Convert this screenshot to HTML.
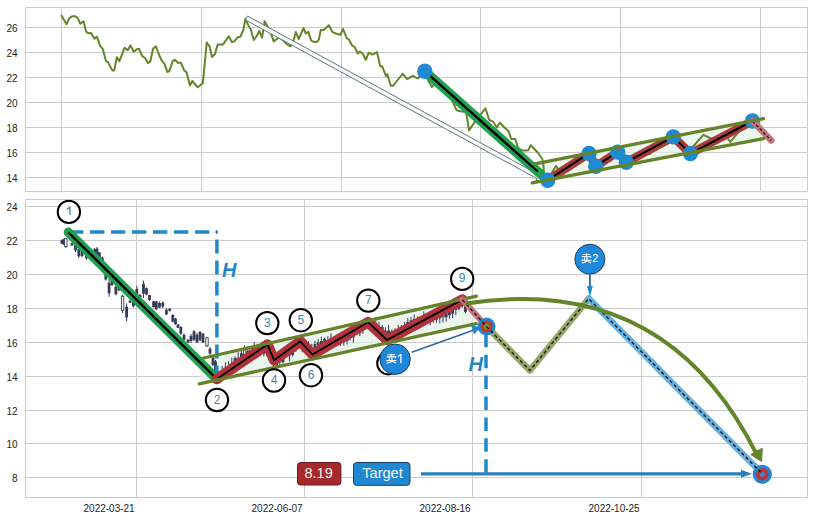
<!DOCTYPE html><html><head><meta charset="utf-8"><style>*{margin:0;padding:0}html,body{width:813px;height:520px;overflow:hidden;background:#fff}
svg text{font-family:"Liberation Sans",sans-serif}
.tk{font-size:10px;fill:#222222}
.nm{font-size:12px;fill:#3f84b8}
.sl{font-size:11px;fill:#ffffff}
.hh{font-size:20px;font-weight:bold;font-style:italic;fill:#1f88c8}
.bx{font-size:14.6px;fill:#f4f4f4}
</style></head><body><svg width="813" height="520" viewBox="0 0 813 520" style="position:absolute;left:0;top:0"><defs><clipPath id="ct"><rect x="25.5" y="7.5" width="782" height="184"/></clipPath><clipPath id="cb"><rect x="25.5" y="199.5" width="782" height="298"/></clipPath></defs><rect width="813" height="520" fill="#ffffff"/><line x1="25.5" x2="807.5" y1="27.5" y2="27.5" stroke="#cccccc" stroke-width="1"/><text x="17.5" y="31.6" text-anchor="end" class="tk">26</text><line x1="25.5" x2="807.5" y1="52.5" y2="52.5" stroke="#cccccc" stroke-width="1"/><text x="17.5" y="56.6" text-anchor="end" class="tk">24</text><line x1="25.5" x2="807.5" y1="77.5" y2="77.5" stroke="#cccccc" stroke-width="1"/><text x="17.5" y="81.6" text-anchor="end" class="tk">22</text><line x1="25.5" x2="807.5" y1="102.5" y2="102.5" stroke="#cccccc" stroke-width="1"/><text x="17.5" y="106.6" text-anchor="end" class="tk">20</text><line x1="25.5" x2="807.5" y1="127.5" y2="127.5" stroke="#cccccc" stroke-width="1"/><text x="17.5" y="131.6" text-anchor="end" class="tk">18</text><line x1="25.5" x2="807.5" y1="152.5" y2="152.5" stroke="#cccccc" stroke-width="1"/><text x="17.5" y="156.6" text-anchor="end" class="tk">16</text><line x1="25.5" x2="807.5" y1="177.5" y2="177.5" stroke="#cccccc" stroke-width="1"/><text x="17.5" y="181.6" text-anchor="end" class="tk">14</text><line x1="61.5" x2="61.5" y1="7.5" y2="191.5" stroke="#cccccc" stroke-width="1"/><line x1="201.5" x2="201.5" y1="7.5" y2="191.5" stroke="#cccccc" stroke-width="1"/><line x1="341.5" x2="341.5" y1="7.5" y2="191.5" stroke="#cccccc" stroke-width="1"/><line x1="480.5" x2="480.5" y1="7.5" y2="191.5" stroke="#cccccc" stroke-width="1"/><line x1="620.5" x2="620.5" y1="7.5" y2="191.5" stroke="#cccccc" stroke-width="1"/><line x1="760.5" x2="760.5" y1="7.5" y2="191.5" stroke="#cccccc" stroke-width="1"/><rect x="25.5" y="7.5" width="782" height="184" fill="none" stroke="#cccccc" stroke-width="1"/><line x1="25.5" x2="807.5" y1="206.5" y2="206.5" stroke="#cccccc" stroke-width="1"/><text x="17.5" y="210.6" text-anchor="end" class="tk">24</text><line x1="25.5" x2="807.5" y1="240.5" y2="240.5" stroke="#cccccc" stroke-width="1"/><text x="17.5" y="244.6" text-anchor="end" class="tk">22</text><line x1="25.5" x2="807.5" y1="274.5" y2="274.5" stroke="#cccccc" stroke-width="1"/><text x="17.5" y="278.6" text-anchor="end" class="tk">20</text><line x1="25.5" x2="807.5" y1="308.5" y2="308.5" stroke="#cccccc" stroke-width="1"/><text x="17.5" y="312.6" text-anchor="end" class="tk">18</text><line x1="25.5" x2="807.5" y1="342.5" y2="342.5" stroke="#cccccc" stroke-width="1"/><text x="17.5" y="346.6" text-anchor="end" class="tk">16</text><line x1="25.5" x2="807.5" y1="376.5" y2="376.5" stroke="#cccccc" stroke-width="1"/><text x="17.5" y="380.6" text-anchor="end" class="tk">14</text><line x1="25.5" x2="807.5" y1="410.5" y2="410.5" stroke="#cccccc" stroke-width="1"/><text x="17.5" y="414.6" text-anchor="end" class="tk">12</text><line x1="25.5" x2="807.5" y1="443.5" y2="443.5" stroke="#cccccc" stroke-width="1"/><text x="17.5" y="447.6" text-anchor="end" class="tk">10</text><line x1="25.5" x2="807.5" y1="477.5" y2="477.5" stroke="#cccccc" stroke-width="1"/><text x="17.5" y="481.6" text-anchor="end" class="tk">8</text><line x1="136.5" x2="136.5" y1="199.5" y2="497.5" stroke="#cccccc" stroke-width="1"/><text x="134.7" y="511.5" text-anchor="end" class="tk">2022-03-21</text><line x1="304.5" x2="304.5" y1="199.5" y2="497.5" stroke="#cccccc" stroke-width="1"/><text x="302.7" y="511.5" text-anchor="end" class="tk">2022-06-07</text><line x1="472.5" x2="472.5" y1="199.5" y2="497.5" stroke="#cccccc" stroke-width="1"/><text x="470.7" y="511.5" text-anchor="end" class="tk">2022-08-16</text><line x1="641.5" x2="641.5" y1="199.5" y2="497.5" stroke="#cccccc" stroke-width="1"/><text x="639.7" y="511.5" text-anchor="end" class="tk">2022-10-25</text><rect x="25.5" y="199.5" width="782" height="298" fill="none" stroke="#cccccc" stroke-width="1"/><g clip-path="url(#ct)"><path d="M534.9,163.8 L763.4,118.7 L763.4,138.7 L532.3,182.9 Z" fill="#e3f1e3" fill-opacity="0.65"/><path d="M61.2,15.0 L66.5,24.2 L69.4,18.1 L72.3,16.2 L75.2,16.2 L77.7,18.1 L80.4,23.7 L83.5,21.3 L86.3,31.9 L88.7,33.3 L91.2,32.9 L94.4,38.7 L96.9,36.7 L100.2,45.8 L102.7,48.8 L106.0,61.2 L107.9,62.1 L112.3,70.4 L114.2,70.4 L116.9,57.3 L119.4,61.2 L124.6,47.7 L127.7,50.2 L130.4,45.4 L133.8,51.7 L136.7,49.2 L139.0,48.8 L142.5,56.5 L145.0,57.9 L147.9,63.1 L150.2,61.7 L153.1,48.8 L155.8,46.3 L159.6,56.0 L161.9,60.8 L164.4,63.7 L167.3,71.9 L169.2,71.3 L172.7,61.2 L175.0,59.8 L177.9,62.7 L180.8,62.7 L184.2,70.4 L186.5,72.3 L190.0,85.4 L192.3,81.0 L197.7,87.3 L202.9,82.9 L206.7,42.5 L209.6,46.3 L211.9,56.9 L215.0,54.0 L217.7,44.4 L223.1,44.4 L228.8,36.2 L231.7,41.9 L234.2,41.5 L237.5,37.3 L240.4,36.7 L243.3,30.0 L245.4,18.8 L248.7,26.2 L250.6,29.0 L253.8,40.0 L256.3,36.7 L259.2,31.0 L262.1,37.7 L264.6,21.3 L267.9,27.1 L270.4,31.9 L273.7,41.5 L276.5,39.2 L279.4,36.7 L283.3,40.6 L287.1,44.4 L290.4,46.3 L293.5,40.6 L295.8,31.9 L298.7,39.2 L303.5,28.1 L305.8,33.5 L308.3,31.9 L311.2,40.6 L314.0,41.9 L316.9,41.9 L318.8,39.6 L320.8,30.0 L323.7,30.0 L328.8,25.2 L332.3,31.9 L335.8,33.5 L340.4,34.8 L343.1,29.0 L346.5,37.7 L348.8,39.6 L352.3,45.8 L354.6,46.9 L357.7,53.5 L360.0,51.5 L362.9,54.0 L365.8,59.8 L368.7,52.7 L372.5,54.6 L376.9,52.1 L380.2,66.2 L382.1,66.2 L386.0,76.2 L387.3,74.2 L390.8,85.8 L393.1,85.8 L398.5,79.0 L402.7,73.8 L407.1,79.0 L412.9,75.8 L417.7,78.5 L424.0,72.0 L428.0,80.0 L432.0,87.0 L436.0,82.0 L442.0,88.0 L448.0,93.0 L452.7,101.5 L456.5,110.2 L460.4,111.2 L466.2,112.1 L469.0,130.4 L472.9,124.6 L478.0,118.0 L485.4,108.3 L489.2,119.8 L493.1,121.7 L496.9,127.5 L499.8,122.7 L504.6,127.5 L508.5,131.3 L511.3,139.0 L515.2,139.0 L518.1,147.7 L522.2,150.6 L528.0,150.6 L530.7,145.3 L538.0,152.7 L542.3,159.0 L543.4,165.4 L544.0,174.0 L550.0,176.0 L556.0,166.0 L560.0,172.0 L575.0,165.0 L589.0,156.0 L596.0,163.0 L610.0,156.0 L626.0,160.0 L640.0,152.0 L650.0,154.0 L655.0,147.0 L673.0,140.0 L690.0,150.0 L703.4,134.8 L712.0,139.0 L725.0,135.0 L730.3,141.9 L740.0,130.0 L752.0,122.0" fill="none" stroke="#64842a" stroke-width="2" stroke-linejoin="round"/><g transform="translate(246.5,18.0) rotate(28.557)"><path d="M0,-2.2 L331.9827708257413,-2.2 L331.9827708257413,-4.5 L340.9827708257413,0 L331.9827708257413,4.5 L331.9827708257413,2.2 L0,2.2 Z" fill="#f6fcfc" stroke="#55656a" stroke-width="0.8" stroke-linejoin="round"/></g><line x1="424.8" y1="71.2" x2="541" y2="174.5" stroke="#22a04c" stroke-width="9.5" stroke-linecap="round"/><line x1="424.8" y1="71.2" x2="537.7" y2="171.5" stroke="#000" stroke-width="2.3"/><path d="M547.7,180.2 L589,153.4 L595.8,166.2 L617.7,152.1 L626.3,162.2 L673.3,136.9 L690.4,153.6 L752.5,121" fill="none" stroke="#a83c3c" stroke-width="8.5" stroke-linejoin="round" stroke-linecap="round"/><path d="M547.7,180.2 L589,153.4 L595.8,166.2 L617.7,152.1 L626.3,162.2 L673.3,136.9 L690.4,153.6 L752.5,121" fill="none" stroke="#000" stroke-width="2" stroke-linejoin="round"/><circle cx="424.8" cy="71.2" r="7.7" fill="#1f8ad2"/><circle cx="547.7" cy="180.2" r="7.7" fill="#1f8ad2"/><circle cx="589" cy="153.4" r="7.7" fill="#1f8ad2"/><circle cx="595.8" cy="166.2" r="7.7" fill="#1f8ad2"/><circle cx="617.7" cy="152.1" r="7.7" fill="#1f8ad2"/><circle cx="626.3" cy="162.2" r="7.7" fill="#1f8ad2"/><circle cx="673.3" cy="136.9" r="7.7" fill="#1f8ad2"/><circle cx="690.4" cy="153.6" r="7.7" fill="#1f8ad2"/><circle cx="752.5" cy="121" r="7.7" fill="#1f8ad2"/><line x1="752.5" y1="121" x2="771.3" y2="140.5" stroke="#c87078" stroke-width="6.5" stroke-linecap="round"/><line x1="752.5" y1="121" x2="771.3" y2="140.5" stroke="#222" stroke-width="1.4" stroke-dasharray="3,2.2"/><line x1="534.9" y1="163.8" x2="763.4" y2="118.7" stroke="#64842a" stroke-width="3.3" stroke-linecap="round"/><line x1="532.3" y1="182.9" x2="763.4" y2="138.7" stroke="#64842a" stroke-width="3.3" stroke-linecap="round"/></g><g clip-path="url(#cb)"><path d="M201.5,358.5 L476.3,296.2 L476.3,323.7 L199.2,383.8 Z" fill="#e4f1e6" fill-opacity="0.7"/><line x1="61.9" x2="61.9" y1="239.6" y2="244.2" stroke="#363b58" stroke-width="1"/><rect x="60.5" y="240.1" width="2.8" height="3.7" fill="#363b58"/><line x1="63.6" x2="63.6" y1="238.8" y2="245.0" stroke="#363b58" stroke-width="1"/><rect x="62.2" y="239.2" width="2.8" height="4.8" fill="#363b58"/><line x1="65.8" x2="65.8" y1="238.0" y2="248.0" stroke="#363b58" stroke-width="1"/><rect x="64.6" y="238.6" width="2.4" height="7.9" fill="#ffffff" stroke="#363b58" stroke-width="0.9"/><line x1="72.0" x2="72.0" y1="242.7" y2="245.8" stroke="#363b58" stroke-width="1"/><rect x="70.6" y="243.1" width="2.8" height="2.5" fill="#363b58"/><line x1="75.5" x2="75.5" y1="244.0" y2="252.0" stroke="#363b58" stroke-width="1"/><rect x="74.1" y="245.1" width="2.8" height="5.2" fill="#363b58"/><line x1="78.8" x2="78.8" y1="248.0" y2="258.0" stroke="#363b58" stroke-width="1"/><rect x="77.4" y="248.9" width="2.8" height="7.3" fill="#363b58"/><line x1="82.0" x2="82.0" y1="250.0" y2="257.0" stroke="#363b58" stroke-width="1"/><rect x="80.6" y="251.2" width="2.8" height="4.9" fill="#363b58"/><line x1="86.5" x2="86.5" y1="254.2" y2="259.6" stroke="#363b58" stroke-width="1"/><rect x="85.1" y="254.5" width="2.8" height="3.9" fill="#363b58"/><line x1="90.0" x2="90.0" y1="249.0" y2="256.0" stroke="#363b58" stroke-width="1"/><rect x="88.6" y="249.6" width="2.8" height="5.9" fill="#363b58"/><line x1="94.6" x2="94.6" y1="248.0" y2="254.0" stroke="#363b58" stroke-width="1"/><rect x="93.2" y="249.3" width="2.8" height="4.2" fill="#363b58"/><line x1="97.0" x2="97.0" y1="247.0" y2="256.0" stroke="#363b58" stroke-width="1"/><rect x="95.6" y="248.6" width="2.8" height="6.3" fill="#363b58"/><line x1="99.4" x2="99.4" y1="252.0" y2="258.7" stroke="#363b58" stroke-width="1"/><rect x="98.0" y="252.4" width="2.8" height="5.9" fill="#363b58"/><line x1="102.3" x2="102.3" y1="256.7" y2="261.5" stroke="#363b58" stroke-width="1"/><rect x="100.9" y="257.6" width="2.8" height="3.3" fill="#363b58"/><line x1="105.8" x2="105.8" y1="272.5" y2="280.6" stroke="#363b58" stroke-width="1"/><rect x="104.4" y="273.9" width="2.8" height="5.6" fill="#363b58"/><line x1="109.1" x2="109.1" y1="279.0" y2="296.8" stroke="#363b58" stroke-width="1"/><rect x="107.7" y="282.7" width="2.8" height="10.7" fill="#363b58"/><line x1="112.0" x2="112.0" y1="279.0" y2="286.0" stroke="#363b58" stroke-width="1"/><rect x="110.6" y="280.2" width="2.8" height="4.8" fill="#363b58"/><line x1="115.9" x2="115.9" y1="284.6" y2="295.4" stroke="#363b58" stroke-width="1"/><rect x="114.5" y="286.7" width="2.8" height="7.5" fill="#363b58"/><line x1="119.0" x2="119.0" y1="287.0" y2="291.0" stroke="#363b58" stroke-width="1"/><rect x="117.6" y="287.3" width="2.8" height="3.2" fill="#363b58"/><line x1="122.6" x2="122.6" y1="294.7" y2="313.0" stroke="#363b58" stroke-width="1"/><rect x="121.4" y="296.2" width="2.4" height="14.1" fill="#ffffff" stroke="#363b58" stroke-width="0.9"/><line x1="126.6" x2="126.6" y1="303.5" y2="321.0" stroke="#363b58" stroke-width="1"/><rect x="125.2" y="306.7" width="2.8" height="10.7" fill="#363b58"/><line x1="130.0" x2="130.0" y1="300.0" y2="303.0" stroke="#363b58" stroke-width="1"/><rect x="128.6" y="300.7" width="2.8" height="2.0" fill="#363b58"/><line x1="133.4" x2="133.4" y1="299.4" y2="307.5" stroke="#363b58" stroke-width="1"/><rect x="132.0" y="300.8" width="2.8" height="5.4" fill="#363b58"/><line x1="136.8" x2="136.8" y1="286.0" y2="299.4" stroke="#363b58" stroke-width="1"/><rect x="135.4" y="288.9" width="2.8" height="7.3" fill="#363b58"/><line x1="140.0" x2="140.0" y1="294.0" y2="299.4" stroke="#363b58" stroke-width="1"/><rect x="138.6" y="295.0" width="2.8" height="4.1" fill="#363b58"/><line x1="143.5" x2="143.5" y1="280.6" y2="298.0" stroke="#363b58" stroke-width="1"/><rect x="142.1" y="283.7" width="2.8" height="10.0" fill="#363b58"/><line x1="146.5" x2="146.5" y1="287.3" y2="295.4" stroke="#363b58" stroke-width="1"/><rect x="145.1" y="288.2" width="2.8" height="6.2" fill="#363b58"/><line x1="149.5" x2="149.5" y1="294.7" y2="300.8" stroke="#363b58" stroke-width="1"/><rect x="148.1" y="295.0" width="2.8" height="4.9" fill="#363b58"/><line x1="153.6" x2="153.6" y1="300.8" y2="307.5" stroke="#363b58" stroke-width="1"/><rect x="152.2" y="301.3" width="2.8" height="5.8" fill="#363b58"/><line x1="156.3" x2="156.3" y1="300.8" y2="310.2" stroke="#363b58" stroke-width="1"/><rect x="154.9" y="301.5" width="2.8" height="7.8" fill="#363b58"/><line x1="159.5" x2="159.5" y1="301.5" y2="308.0" stroke="#363b58" stroke-width="1"/><rect x="158.1" y="303.0" width="2.8" height="4.6" fill="#363b58"/><line x1="162.8" x2="162.8" y1="301.5" y2="308.0" stroke="#363b58" stroke-width="1"/><rect x="161.4" y="302.5" width="2.8" height="4.0" fill="#363b58"/><line x1="166.4" x2="166.4" y1="308.2" y2="315.0" stroke="#363b58" stroke-width="1"/><rect x="165.0" y="309.7" width="2.8" height="4.6" fill="#363b58"/><line x1="169.7" x2="169.7" y1="308.2" y2="311.6" stroke="#363b58" stroke-width="1"/><rect x="168.3" y="308.6" width="2.8" height="2.2" fill="#363b58"/><line x1="172.8" x2="172.8" y1="314.3" y2="322.3" stroke="#363b58" stroke-width="1"/><rect x="171.4" y="314.9" width="2.8" height="6.7" fill="#363b58"/><line x1="175.5" x2="175.5" y1="318.0" y2="325.0" stroke="#363b58" stroke-width="1"/><rect x="174.1" y="318.7" width="2.8" height="5.3" fill="#363b58"/><line x1="178.0" x2="178.0" y1="324.0" y2="328.0" stroke="#363b58" stroke-width="1"/><rect x="176.6" y="324.4" width="2.8" height="3.4" fill="#363b58"/><line x1="180.8" x2="180.8" y1="326.0" y2="335.0" stroke="#363b58" stroke-width="1"/><rect x="179.4" y="327.1" width="2.8" height="6.4" fill="#363b58"/><line x1="184.0" x2="184.0" y1="333.5" y2="341.0" stroke="#363b58" stroke-width="1"/><rect x="182.6" y="334.9" width="2.8" height="4.9" fill="#363b58"/><line x1="188.0" x2="188.0" y1="339.0" y2="343.0" stroke="#363b58" stroke-width="1"/><rect x="186.6" y="339.7" width="2.8" height="3.0" fill="#363b58"/><line x1="191.0" x2="191.0" y1="334.0" y2="343.0" stroke="#363b58" stroke-width="1"/><rect x="189.6" y="335.9" width="2.8" height="5.1" fill="#363b58"/><line x1="194.0" x2="194.0" y1="330.0" y2="341.0" stroke="#363b58" stroke-width="1"/><rect x="192.6" y="331.4" width="2.8" height="8.2" fill="#363b58"/><line x1="197.0" x2="197.0" y1="333.0" y2="343.0" stroke="#363b58" stroke-width="1"/><rect x="195.6" y="334.8" width="2.8" height="7.6" fill="#363b58"/><line x1="200.0" x2="200.0" y1="331.0" y2="341.0" stroke="#363b58" stroke-width="1"/><rect x="198.6" y="331.9" width="2.8" height="8.3" fill="#363b58"/><line x1="203.0" x2="203.0" y1="333.0" y2="343.0" stroke="#363b58" stroke-width="1"/><rect x="201.6" y="333.6" width="2.8" height="8.9" fill="#363b58"/><line x1="207.0" x2="207.0" y1="337.0" y2="347.0" stroke="#363b58" stroke-width="1"/><rect x="205.8" y="337.7" width="2.4" height="8.1" fill="#ffffff" stroke="#363b58" stroke-width="0.9"/><line x1="210.0" x2="210.0" y1="347.0" y2="355.0" stroke="#363b58" stroke-width="1"/><rect x="208.6" y="348.8" width="2.8" height="4.8" fill="#363b58"/><line x1="213.0" x2="213.0" y1="356.5" y2="366.0" stroke="#363b58" stroke-width="1"/><rect x="211.6" y="357.5" width="2.8" height="7.4" fill="#363b58"/><line x1="215.5" x2="215.5" y1="360.0" y2="379.0" stroke="#363b58" stroke-width="1"/><rect x="214.1" y="361.4" width="2.8" height="13.4" fill="#363b58"/><line x1="219.0" x2="219.0" y1="372.5" y2="380.1" stroke="#363b58" stroke-width="1"/><rect x="217.6" y="374.5" width="2.8" height="3.3" fill="#363b58"/><line x1="222.2" x2="222.2" y1="365.9" y2="376.9" stroke="#363b58" stroke-width="1"/><rect x="221.0" y="371.2" width="2.4" height="2.6" fill="#ffffff" stroke="#363b58" stroke-width="0.9"/><line x1="225.4" x2="225.4" y1="362.3" y2="377.5" stroke="#363b58" stroke-width="1"/><rect x="224.2" y="368.2" width="2.4" height="4.4" fill="#ffffff" stroke="#363b58" stroke-width="0.9"/><line x1="228.6" x2="228.6" y1="361.1" y2="372.7" stroke="#363b58" stroke-width="1"/><rect x="227.2" y="366.3" width="2.8" height="4.4" fill="#363b58"/><line x1="231.8" x2="231.8" y1="357.6" y2="372.0" stroke="#363b58" stroke-width="1"/><rect x="230.4" y="363.2" width="2.8" height="4.3" fill="#363b58"/><line x1="235.0" x2="235.0" y1="356.3" y2="363.5" stroke="#363b58" stroke-width="1"/><rect x="233.6" y="358.1" width="2.8" height="4.1" fill="#363b58"/><line x1="238.2" x2="238.2" y1="351.9" y2="366.1" stroke="#363b58" stroke-width="1"/><rect x="237.0" y="358.2" width="2.4" height="3.9" fill="#ffffff" stroke="#363b58" stroke-width="0.9"/><line x1="241.4" x2="241.4" y1="348.1" y2="362.6" stroke="#363b58" stroke-width="1"/><rect x="240.0" y="353.3" width="2.8" height="4.8" fill="#363b58"/><line x1="244.6" x2="244.6" y1="345.2" y2="359.6" stroke="#363b58" stroke-width="1"/><rect x="243.4" y="349.8" width="2.4" height="5.1" fill="#ffffff" stroke="#363b58" stroke-width="0.9"/><line x1="247.8" x2="247.8" y1="346.2" y2="359.6" stroke="#363b58" stroke-width="1"/><rect x="246.4" y="350.8" width="2.8" height="3.4" fill="#363b58"/><line x1="251.0" x2="251.0" y1="347.2" y2="354.0" stroke="#363b58" stroke-width="1"/><rect x="249.8" y="348.1" width="2.4" height="4.6" fill="#ffffff" stroke="#363b58" stroke-width="0.9"/><line x1="254.2" x2="254.2" y1="342.0" y2="355.0" stroke="#363b58" stroke-width="1"/><rect x="253.0" y="346.3" width="2.4" height="4.5" fill="#ffffff" stroke="#363b58" stroke-width="0.9"/><line x1="257.4" x2="257.4" y1="343.7" y2="357.2" stroke="#363b58" stroke-width="1"/><rect x="256.0" y="347.5" width="2.8" height="5.3" fill="#363b58"/><line x1="260.6" x2="260.6" y1="343.3" y2="351.4" stroke="#363b58" stroke-width="1"/><rect x="259.2" y="345.5" width="2.8" height="3.3" fill="#363b58"/><line x1="263.8" x2="263.8" y1="344.5" y2="356.4" stroke="#363b58" stroke-width="1"/><rect x="262.4" y="347.4" width="2.8" height="6.4" fill="#363b58"/><line x1="267.0" x2="267.0" y1="344.7" y2="356.0" stroke="#363b58" stroke-width="1"/><rect x="265.8" y="349.3" width="2.4" height="3.1" fill="#ffffff" stroke="#363b58" stroke-width="0.9"/><line x1="270.2" x2="270.2" y1="348.9" y2="359.7" stroke="#363b58" stroke-width="1"/><rect x="268.8" y="350.7" width="2.8" height="5.6" fill="#363b58"/><line x1="273.4" x2="273.4" y1="356.0" y2="366.8" stroke="#363b58" stroke-width="1"/><rect x="272.0" y="360.5" width="2.8" height="3.9" fill="#363b58"/><line x1="276.6" x2="276.6" y1="357.6" y2="369.9" stroke="#363b58" stroke-width="1"/><rect x="275.2" y="360.4" width="2.8" height="5.0" fill="#363b58"/><line x1="279.8" x2="279.8" y1="353.9" y2="365.6" stroke="#363b58" stroke-width="1"/><rect x="278.4" y="358.0" width="2.8" height="4.3" fill="#363b58"/><line x1="283.0" x2="283.0" y1="350.4" y2="363.7" stroke="#363b58" stroke-width="1"/><rect x="281.6" y="355.7" width="2.8" height="6.4" fill="#363b58"/><line x1="286.2" x2="286.2" y1="349.9" y2="357.4" stroke="#363b58" stroke-width="1"/><rect x="284.8" y="353.2" width="2.8" height="2.2" fill="#363b58"/><line x1="289.4" x2="289.4" y1="349.1" y2="361.2" stroke="#363b58" stroke-width="1"/><rect x="288.0" y="351.0" width="2.8" height="4.6" fill="#363b58"/><line x1="292.6" x2="292.6" y1="345.4" y2="356.7" stroke="#363b58" stroke-width="1"/><rect x="291.2" y="350.4" width="2.8" height="4.4" fill="#363b58"/><line x1="295.8" x2="295.8" y1="341.9" y2="352.1" stroke="#363b58" stroke-width="1"/><rect x="294.4" y="346.0" width="2.8" height="3.1" fill="#363b58"/><line x1="299.0" x2="299.0" y1="339.0" y2="348.0" stroke="#363b58" stroke-width="1"/><rect x="297.6" y="342.5" width="2.8" height="4.2" fill="#363b58"/><line x1="302.2" x2="302.2" y1="336.3" y2="352.3" stroke="#363b58" stroke-width="1"/><rect x="301.0" y="342.3" width="2.4" height="3.7" fill="#ffffff" stroke="#363b58" stroke-width="0.9"/><line x1="305.4" x2="305.4" y1="344.4" y2="352.7" stroke="#363b58" stroke-width="1"/><rect x="304.0" y="345.4" width="2.8" height="5.0" fill="#363b58"/><line x1="308.6" x2="308.6" y1="341.2" y2="354.9" stroke="#363b58" stroke-width="1"/><rect x="307.2" y="346.3" width="2.8" height="3.0" fill="#363b58"/><line x1="311.8" x2="311.8" y1="343.9" y2="355.5" stroke="#363b58" stroke-width="1"/><rect x="310.4" y="348.2" width="2.8" height="3.0" fill="#363b58"/><line x1="315.0" x2="315.0" y1="340.7" y2="352.3" stroke="#363b58" stroke-width="1"/><rect x="313.6" y="344.1" width="2.8" height="6.3" fill="#363b58"/><line x1="318.2" x2="318.2" y1="339.2" y2="347.7" stroke="#363b58" stroke-width="1"/><rect x="316.8" y="342.3" width="2.8" height="2.6" fill="#363b58"/><line x1="321.4" x2="321.4" y1="336.8" y2="347.2" stroke="#363b58" stroke-width="1"/><rect x="320.0" y="341.0" width="2.8" height="3.1" fill="#363b58"/><line x1="324.6" x2="324.6" y1="337.6" y2="346.6" stroke="#363b58" stroke-width="1"/><rect x="323.2" y="338.8" width="2.8" height="3.1" fill="#363b58"/><line x1="327.8" x2="327.8" y1="336.3" y2="346.8" stroke="#363b58" stroke-width="1"/><rect x="326.4" y="340.7" width="2.8" height="3.8" fill="#363b58"/><line x1="331.0" x2="331.0" y1="333.2" y2="346.2" stroke="#363b58" stroke-width="1"/><rect x="329.6" y="337.9" width="2.8" height="5.9" fill="#363b58"/><line x1="334.2" x2="334.2" y1="337.2" y2="344.3" stroke="#363b58" stroke-width="1"/><rect x="332.8" y="339.5" width="2.8" height="3.5" fill="#363b58"/><line x1="337.4" x2="337.4" y1="333.9" y2="346.1" stroke="#363b58" stroke-width="1"/><rect x="336.0" y="338.1" width="2.8" height="3.1" fill="#363b58"/><line x1="340.6" x2="340.6" y1="336.6" y2="345.9" stroke="#363b58" stroke-width="1"/><rect x="339.2" y="339.1" width="2.8" height="4.6" fill="#363b58"/><line x1="343.8" x2="343.8" y1="334.6" y2="345.7" stroke="#363b58" stroke-width="1"/><rect x="342.4" y="340.0" width="2.8" height="2.4" fill="#363b58"/><line x1="347.0" x2="347.0" y1="334.7" y2="344.6" stroke="#363b58" stroke-width="1"/><rect x="345.8" y="338.0" width="2.4" height="2.7" fill="#ffffff" stroke="#363b58" stroke-width="0.9"/><line x1="350.2" x2="350.2" y1="333.9" y2="340.4" stroke="#363b58" stroke-width="1"/><rect x="348.8" y="335.5" width="2.8" height="2.8" fill="#363b58"/><line x1="353.4" x2="353.4" y1="328.7" y2="342.7" stroke="#363b58" stroke-width="1"/><rect x="352.0" y="333.4" width="2.8" height="3.9" fill="#363b58"/><line x1="356.6" x2="356.6" y1="324.4" y2="335.1" stroke="#363b58" stroke-width="1"/><rect x="355.2" y="327.8" width="2.8" height="6.5" fill="#363b58"/><line x1="359.8" x2="359.8" y1="325.3" y2="336.2" stroke="#363b58" stroke-width="1"/><rect x="358.4" y="327.5" width="2.8" height="5.8" fill="#363b58"/><line x1="363.0" x2="363.0" y1="320.2" y2="333.9" stroke="#363b58" stroke-width="1"/><rect x="361.8" y="324.9" width="2.4" height="4.2" fill="#ffffff" stroke="#363b58" stroke-width="0.9"/><line x1="366.2" x2="366.2" y1="319.0" y2="329.2" stroke="#363b58" stroke-width="1"/><rect x="364.8" y="320.6" width="2.8" height="4.2" fill="#363b58"/><line x1="369.4" x2="369.4" y1="319.9" y2="330.1" stroke="#363b58" stroke-width="1"/><rect x="368.0" y="320.8" width="2.8" height="4.7" fill="#363b58"/><line x1="372.6" x2="372.6" y1="319.4" y2="328.6" stroke="#363b58" stroke-width="1"/><rect x="371.2" y="324.0" width="2.8" height="2.1" fill="#363b58"/><line x1="375.8" x2="375.8" y1="317.3" y2="331.1" stroke="#363b58" stroke-width="1"/><rect x="374.4" y="323.1" width="2.8" height="4.4" fill="#363b58"/><line x1="379.0" x2="379.0" y1="322.1" y2="332.5" stroke="#363b58" stroke-width="1"/><rect x="377.6" y="327.0" width="2.8" height="3.1" fill="#363b58"/><line x1="382.2" x2="382.2" y1="324.9" y2="332.5" stroke="#363b58" stroke-width="1"/><rect x="380.8" y="327.0" width="2.8" height="4.2" fill="#363b58"/><line x1="385.4" x2="385.4" y1="327.4" y2="337.5" stroke="#363b58" stroke-width="1"/><rect x="384.0" y="330.7" width="2.8" height="2.9" fill="#363b58"/><line x1="388.6" x2="388.6" y1="324.8" y2="337.6" stroke="#363b58" stroke-width="1"/><rect x="387.2" y="330.5" width="2.8" height="6.1" fill="#363b58"/><line x1="391.8" x2="391.8" y1="329.5" y2="340.2" stroke="#363b58" stroke-width="1"/><rect x="390.6" y="332.1" width="2.4" height="3.3" fill="#ffffff" stroke="#363b58" stroke-width="0.9"/><line x1="395.0" x2="395.0" y1="328.2" y2="340.9" stroke="#363b58" stroke-width="1"/><rect x="393.6" y="330.5" width="2.8" height="6.3" fill="#363b58"/><line x1="398.2" x2="398.2" y1="324.9" y2="335.6" stroke="#363b58" stroke-width="1"/><rect x="396.8" y="329.9" width="2.8" height="3.9" fill="#363b58"/><line x1="401.4" x2="401.4" y1="325.0" y2="333.2" stroke="#363b58" stroke-width="1"/><rect x="400.0" y="326.9" width="2.8" height="3.1" fill="#363b58"/><line x1="404.6" x2="404.6" y1="322.0" y2="334.1" stroke="#363b58" stroke-width="1"/><rect x="403.2" y="326.2" width="2.8" height="3.6" fill="#363b58"/><line x1="407.8" x2="407.8" y1="318.0" y2="330.8" stroke="#363b58" stroke-width="1"/><rect x="406.6" y="322.4" width="2.4" height="4.6" fill="#ffffff" stroke="#363b58" stroke-width="0.9"/><line x1="411.0" x2="411.0" y1="316.9" y2="330.1" stroke="#363b58" stroke-width="1"/><rect x="409.6" y="320.3" width="2.8" height="3.8" fill="#363b58"/><line x1="414.2" x2="414.2" y1="314.5" y2="328.4" stroke="#363b58" stroke-width="1"/><rect x="412.8" y="319.0" width="2.8" height="4.8" fill="#363b58"/><line x1="417.4" x2="417.4" y1="316.5" y2="326.8" stroke="#363b58" stroke-width="1"/><rect x="416.0" y="320.3" width="2.8" height="4.7" fill="#363b58"/><line x1="420.6" x2="420.6" y1="318.0" y2="328.0" stroke="#363b58" stroke-width="1"/><rect x="419.2" y="320.1" width="2.8" height="2.9" fill="#363b58"/><line x1="423.8" x2="423.8" y1="311.4" y2="324.3" stroke="#363b58" stroke-width="1"/><rect x="422.4" y="316.6" width="2.8" height="4.7" fill="#363b58"/><line x1="427.0" x2="427.0" y1="315.6" y2="322.7" stroke="#363b58" stroke-width="1"/><rect x="425.6" y="316.6" width="2.8" height="4.1" fill="#363b58"/><line x1="430.2" x2="430.2" y1="313.9" y2="325.2" stroke="#363b58" stroke-width="1"/><rect x="428.8" y="318.3" width="2.8" height="3.5" fill="#363b58"/><line x1="433.4" x2="433.4" y1="313.3" y2="322.6" stroke="#363b58" stroke-width="1"/><rect x="432.0" y="314.8" width="2.8" height="4.7" fill="#363b58"/><line x1="436.6" x2="436.6" y1="312.8" y2="322.8" stroke="#363b58" stroke-width="1"/><rect x="435.2" y="316.7" width="2.8" height="2.9" fill="#363b58"/><line x1="439.8" x2="439.8" y1="310.6" y2="323.5" stroke="#363b58" stroke-width="1"/><rect x="438.4" y="315.1" width="2.8" height="3.1" fill="#363b58"/><line x1="443.0" x2="443.0" y1="308.5" y2="322.5" stroke="#363b58" stroke-width="1"/><rect x="441.8" y="312.9" width="2.4" height="3.9" fill="#ffffff" stroke="#363b58" stroke-width="0.9"/><line x1="446.2" x2="446.2" y1="308.7" y2="321.5" stroke="#363b58" stroke-width="1"/><rect x="444.8" y="313.6" width="2.8" height="3.6" fill="#363b58"/><line x1="449.4" x2="449.4" y1="305.3" y2="318.6" stroke="#363b58" stroke-width="1"/><rect x="448.0" y="311.9" width="2.8" height="3.2" fill="#363b58"/><line x1="452.6" x2="452.6" y1="303.9" y2="318.2" stroke="#363b58" stroke-width="1"/><rect x="451.2" y="307.9" width="2.8" height="5.8" fill="#363b58"/><line x1="455.8" x2="455.8" y1="302.5" y2="315.2" stroke="#363b58" stroke-width="1"/><rect x="454.6" y="304.7" width="2.4" height="4.8" fill="#ffffff" stroke="#363b58" stroke-width="0.9"/><line x1="459.0" x2="459.0" y1="299.7" y2="310.5" stroke="#363b58" stroke-width="1"/><rect x="457.6" y="305.0" width="2.8" height="3.6" fill="#363b58"/><line x1="462.2" x2="462.2" y1="299.3" y2="307.7" stroke="#363b58" stroke-width="1"/><rect x="460.8" y="303.3" width="2.8" height="3.1" fill="#363b58"/><line x1="465.4" x2="465.4" y1="302.0" y2="313.3" stroke="#363b58" stroke-width="1"/><rect x="464.0" y="306.2" width="2.8" height="5.7" fill="#363b58"/><line x1="69" y1="232" x2="217.5" y2="232" stroke="#1f88c8" stroke-width="3.7" stroke-dasharray="14.3,6.7"/><path d="M214.5,232 H218.5 M216.5,230 V234" stroke="#1f88c8" stroke-width="1"/><line x1="486" y1="333.8" x2="486" y2="474" stroke="#1f88c8" stroke-width="3.5" stroke-dasharray="13.5,7.4"/><line x1="68.4" y1="232.3" x2="216.9" y2="379.2" stroke="#22a04c" stroke-width="9.5" stroke-linecap="round"/><line x1="68.4" y1="232.3" x2="216.9" y2="379.2" stroke="#000" stroke-width="2.4"/><line x1="216.9" y1="239.5" x2="216.9" y2="379" stroke="#1f88c8" stroke-width="3.5" stroke-dasharray="14,7"/><path d="M216.9,379 L267.5,344.6 L274.1,360.3 L300.3,341.3 L312.5,354.5 L368,322.2 L387,340 L462.3,299.6" fill="none" stroke="#b0323a" stroke-width="10.5" stroke-linejoin="round" stroke-linecap="round"/><path d="M216.9,379 L267.5,344.6 L274.1,360.3 L300.3,341.3 L312.5,354.5 L368,322.2 L387,340 L462.3,299.6" fill="none" stroke="#000" stroke-width="1.8" stroke-linejoin="round"/><line x1="201.5" y1="358.5" x2="476.3" y2="296.2" stroke="#64842a" stroke-width="3.3" stroke-linecap="round"/><line x1="199.2" y1="383.8" x2="476.3" y2="323.7" stroke="#64842a" stroke-width="3.3" stroke-linecap="round"/><line x1="462.3" y1="299.6" x2="486.4" y2="326.4" stroke="#c8707a" stroke-width="6" stroke-linecap="round"/><path d="M486.4,326.4 L529.9,370.5 L588.7,298.6" fill="none" stroke="#93a868" stroke-width="6.5" stroke-linejoin="round" stroke-linecap="round"/><line x1="588.7" y1="298.6" x2="762.5" y2="474" stroke="#66b0e2" stroke-width="6.5" stroke-linecap="round"/><circle cx="486.5" cy="326.5" r="9" fill="#1f88d0"/><circle cx="486.5" cy="326.5" r="6" fill="#c0392b"/><circle cx="486.5" cy="326.5" r="3" fill="#8a8a30"/><circle cx="762.3" cy="474.3" r="9.6" fill="#1f88d0"/><circle cx="762.3" cy="474.3" r="6.2" fill="#c0303a"/><circle cx="762.3" cy="474.3" r="2.6" fill="#3a8ac0"/><path d="M462.3,299.6 L486.4,326.4 L529.9,370.5 L588.7,298.6 L762.5,474" fill="none" stroke="#1a1a1a" stroke-width="1.4" stroke-dasharray="3.5,2.5"/><path d="M465.6,303.6 Q666,272 757,455" fill="none" stroke="#64842a" stroke-width="4"/><path d="M750.8,454.5 L762.3,448.2 L761.6,461.5 Z" fill="#64842a" stroke="#64842a" stroke-width="1" stroke-linejoin="round"/><line x1="421" y1="473.9" x2="745" y2="473.9" stroke="#2a7fbc" stroke-width="3.2"/><path d="M741,469.8 L752,473.8 L741,477.8 Z" fill="#2a7fc0"/><circle cx="68.9" cy="211.9" r="11.2" fill="#ffffff" fill-opacity="0.75" stroke="#000" stroke-width="2"/><path d="M69.9,206.6 V215 M69.9,207 L66.8,209.4" stroke="#3f84b8" stroke-width="1.3" fill="none"/><circle cx="217" cy="400" r="11.2" fill="#ffffff" fill-opacity="0.75" stroke="#000" stroke-width="2"/><text x="217" y="403.5" text-anchor="middle" class="nm">2</text><circle cx="267.3" cy="323.1" r="11.2" fill="#ffffff" fill-opacity="0.75" stroke="#000" stroke-width="2"/><text x="267.3" y="326.6" text-anchor="middle" class="nm">3</text><circle cx="274" cy="380.5" r="11.2" fill="#ffffff" fill-opacity="0.75" stroke="#000" stroke-width="2"/><text x="274" y="384.0" text-anchor="middle" class="nm">4</text><circle cx="300.8" cy="320.2" r="11.2" fill="#ffffff" fill-opacity="0.75" stroke="#000" stroke-width="2"/><text x="300.8" y="323.7" text-anchor="middle" class="nm">5</text><circle cx="311" cy="375.2" r="11.2" fill="#ffffff" fill-opacity="0.75" stroke="#000" stroke-width="2"/><text x="311" y="378.7" text-anchor="middle" class="nm">6</text><circle cx="368.3" cy="300.6" r="11.2" fill="#ffffff" fill-opacity="0.75" stroke="#000" stroke-width="2"/><text x="368.3" y="304.1" text-anchor="middle" class="nm">7</text><circle cx="388.4" cy="363.2" r="11.2" fill="#ffffff" fill-opacity="0.75" stroke="#000" stroke-width="2"/><text x="388.4" y="366.7" text-anchor="middle" class="nm">8</text><circle cx="462.2" cy="278.9" r="11.2" fill="#ffffff" fill-opacity="0.75" stroke="#000" stroke-width="2"/><text x="462.2" y="282.4" text-anchor="middle" class="nm">9</text><line x1="411.8" y1="352.3" x2="474" y2="330" stroke="#2a6a9a" stroke-width="1.5"/><path d="M471,325 L480.5,327.6 L474,334.5 Z" fill="#1f88d0"/><line x1="589.9" y1="274.7" x2="589.9" y2="288" stroke="#2a6a9a" stroke-width="1.8"/><path d="M587,286 L592.8,286 L589.9,297 Z" fill="#1f88d0"/><circle cx="395.1" cy="359.2" r="15.2" fill="#1f88d8" stroke="#1b3f6a" stroke-width="1"/><g transform="translate(391.3,358.3) scale(1.0)" stroke="#ffffff" stroke-width="1.1" fill="none" stroke-linecap="butt"><path d="M-3.8,-3.6 H3.8 M0,-4.9 V-1.6 M-4.6,-1.4 H4.4 V-0.3 M-2.2,-0.4 L-1.3,0.4 M-2.4,0.9 L-1.5,1.6 M-5,2.3 H5 M0.6,-0.6 V2.3 C0.3,3.9 -1.6,4.5 -4.6,4.8 M1.2,3.1 L4.6,4.8"/></g><path d="M400.9,353.9 V363.3 M400.9,354.3 L398.1,356.5" stroke="#ffffff" stroke-width="1.25" fill="none"/><circle cx="589.9" cy="259.2" r="15" fill="#1f88d8" stroke="#1b3f6a" stroke-width="1"/><g transform="translate(586.4,258.1) scale(1.0)" stroke="#ffffff" stroke-width="1.1" fill="none" stroke-linecap="butt"><path d="M-3.8,-3.6 H3.8 M0,-4.9 V-1.6 M-4.6,-1.4 H4.4 V-0.3 M-2.2,-0.4 L-1.3,0.4 M-2.4,0.9 L-1.5,1.6 M-5,2.3 H5 M0.6,-0.6 V2.3 C0.3,3.9 -1.6,4.5 -4.6,4.8 M1.2,3.1 L4.6,4.8"/></g><text x="595.2" y="262.1" text-anchor="middle" class="sl">2</text><text x="222" y="276.5" class="hh">H</text><text x="468.5" y="371" class="hh">H</text></g><rect x="297.5" y="462.5" width="43.4" height="22.5" rx="3" fill="#a5282c" stroke="#6e1a1e" stroke-width="1"/><text x="318.6" y="478.4" text-anchor="middle" class="bx">8.19</text><rect x="353.5" y="462.5" width="56.5" height="22.8" rx="3" fill="#1f88d0" stroke="#1b3f6a" stroke-width="1"/><text x="382.5" y="478.2" text-anchor="middle" class="bx">Target</text></svg></body></html>
